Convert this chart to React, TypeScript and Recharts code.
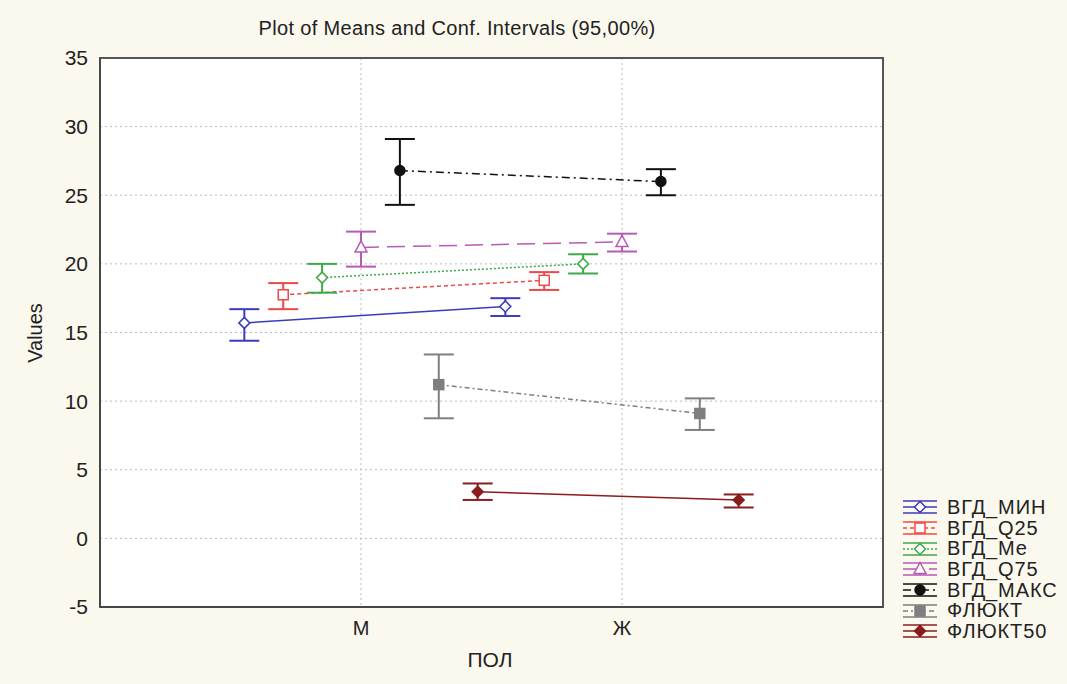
import {
  LineChart,
  Line,
  XAxis,
  YAxis,
  CartesianGrid,
  ErrorBar,
  Legend,
  ReferenceArea,
} from 'recharts'

const groups = ['М', 'Ж']
const yTicks = [-5, 0, 5, 10, 15, 20, 25, 30, 35]

const seriesNames = ['ВГД_МИН', 'ВГД_Q25', 'ВГД_Me', 'ВГД_Q75', 'ВГД_МАКС', 'ФЛЮКТ', 'ФЛЮКТ50']

// means and 95% CI bounds per group (М, Ж)
const vgdMin = [15.7, 16.9]
const vgdMinLo = [14.4, 16.2]
const vgdMinHi = [16.7, 17.5]

const vgdQ25 = [17.75, 18.8]
const vgdQ25Lo = [16.7, 18.1]
const vgdQ25Hi = [18.6, 19.4]

const vgdMe = [19.0, 20.0]
const vgdMeLo = [17.9, 19.3]
const vgdMeHi = [20.0, 20.7]

const vgdQ75 = [21.2, 21.6]
const vgdQ75Lo = [19.8, 20.9]
const vgdQ75Hi = [22.35, 22.2]

const vgdMax = [26.8, 26.0]
const vgdMaxLo = [24.3, 25.0]
const vgdMaxHi = [29.1, 26.9]

const fluct = [11.2, 9.1]
const fluctLo = [8.75, 7.9]
const fluctHi = [13.4, 10.2]

const fluct50 = [3.4, 2.8]
const fluct50Lo = [2.8, 2.25]
const fluct50Hi = [4.0, 3.2]

const means = [vgdMin, vgdQ25, vgdMe, vgdQ75, vgdMax, fluct, fluct50]
const lows = [vgdMinLo, vgdQ25Lo, vgdMeLo, vgdQ75Lo, vgdMaxLo, fluctLo, fluct50Lo]
const highs = [vgdMinHi, vgdQ25Hi, vgdMeHi, vgdQ75Hi, vgdMaxHi, fluctHi, fluct50Hi]

type Shape = 'diamond' | 'square' | 'triangle' | 'circle'

const styles: { color: string; dash?: string; shape: Shape; filled: boolean }[] = [
  { color: '#3b3bbd', shape: 'diamond', filled: false },
  { color: '#f04848', dash: '4 3', shape: 'square', filled: false },
  { color: '#3daa4a', dash: '2 2', shape: 'diamond', filled: false },
  { color: '#b65ab6', dash: '18 8', shape: 'triangle', filled: false },
  { color: '#111111', dash: '8 4 2 4', shape: 'circle', filled: true },
  { color: '#7f7f7f', dash: '5 3 2 3', shape: 'square', filled: true },
  { color: '#8b1c1c', shape: 'diamond', filled: true },
]

const OFFSET = 0.149
const FONT = '"Liberation Sans", Arial, sans-serif'
const TEXT = '#222'

const seriesData = means.map((m, si) =>
  groups.map((_, gi) => ({
    x: gi + 1 + (si - 3) * OFFSET,
    y: m[gi],
    err: [m[gi] - lows[si][gi], highs[si][gi] - m[gi]],
  }))
)

const Marker = ({ cx, cy, shape, color, filled }: { cx: number; cy: number; shape: Shape; color: string; filled: boolean }) => {
  const fill = filled ? color : '#fff'
  const sw = 1.5
  if (shape === 'diamond') {
    const r = 5.5
    return <polygon points={`${cx},${cy - r} ${cx + r},${cy} ${cx},${cy + r} ${cx - r},${cy}`} fill={fill} stroke={color} strokeWidth={sw} />
  }
  if (shape === 'square') {
    return <rect x={cx - 5} y={cy - 5} width={10} height={10} fill={fill} stroke={color} strokeWidth={sw} />
  }
  if (shape === 'triangle') {
    return <polygon points={`${cx},${cy - 6.5} ${cx + 6},${cy + 4.5} ${cx - 6},${cy + 4.5}`} fill={fill} stroke={color} strokeWidth={sw} />
  }
  return <circle cx={cx} cy={cy} r={5} fill={fill} stroke={color} strokeWidth={sw} />
}

const renderLegend = () => (
  <div style={{ fontFamily: FONT, fontSize: 20, color: TEXT, letterSpacing: 0.9 }}>
    {seriesNames.map((name, i) => {
      const s = styles[i]
      return (
        <div key={name} style={{ display: 'flex', alignItems: 'center', height: 20.7 }}>
          <svg width={38} height={20} style={{ marginRight: 8 }}>
            <line x1={2} y1={4} x2={36} y2={4} stroke={s.color} strokeWidth={1.5} />
            <line x1={2} y1={16} x2={36} y2={16} stroke={s.color} strokeWidth={1.5} />
            <line x1={19} y1={4} x2={19} y2={16} stroke={s.color} strokeWidth={1.5} />
            <line x1={2} y1={10} x2={36} y2={10} stroke={s.color} strokeWidth={1.5} strokeDasharray={s.dash} />
            <Marker cx={19} cy={10} shape={s.shape} color={s.color} filled={s.filled} />
          </svg>
          <span>{name}</span>
        </div>
      )
    })}
  </div>
)

export default function App() {
  return (
    <div style={{ position: 'absolute', left: 0, top: 0, width: 1067, height: 684, background: '#fbf8ee', fontFamily: FONT }}>
      <div style={{ position: 'absolute', top: 17, left: 457, transform: 'translateX(-50%)', whiteSpace: 'nowrap', fontSize: 20, letterSpacing: 0.35, color: TEXT }}>
        Plot of Means and Conf. Intervals (95,00%)
      </div>
      <div style={{ position: 'absolute', left: 35, top: 333, transform: 'translate(-50%, -50%) rotate(-90deg)', fontSize: 20, color: TEXT }}>
        Values
      </div>
      <div style={{ position: 'absolute', left: 490, top: 660, transform: 'translate(-50%, -50%)', fontSize: 21, color: TEXT }}>
        ПОЛ
      </div>
      <LineChart width={1067} height={684} margin={{ top: 58, right: 184, bottom: 47, left: 40 }}>
        <CartesianGrid fill="#ffffff" stroke="#bbbbbb" strokeDasharray="2 3" />
        <XAxis
          type="number"
          dataKey="x"
          domain={[0, 3]}
          ticks={[1, 2]}
          tickFormatter={(v: number) => groups[v - 1] ?? ''}
          allowDuplicatedCategory={false}
          height={30}
          tickSize={0}
          tickMargin={14}
          axisLine={{ stroke: '#444', strokeWidth: 1.5 }}
          tick={{ fill: TEXT, fontSize: 20, fontFamily: FONT }}
        />
        <YAxis
          type="number"
          domain={[-5, 35]}
          ticks={yTicks}
          width={60}
          tickSize={0}
          tickMargin={12}
          axisLine={{ stroke: '#444', strokeWidth: 1.5 }}
          tick={{ fill: TEXT, fontSize: 21, fontFamily: FONT }}
        />
        <ReferenceArea x1={0} x2={3} y1={-5} y2={35} fill="none" stroke="#555" strokeWidth={2} />
        {seriesNames.map((name, i) => {
          const s = styles[i]
          return (
            <Line
              key={name}
              name={name}
              data={seriesData[i]}
              dataKey="y"
              stroke={s.color}
              strokeWidth={1.5}
              strokeDasharray={s.dash}
              isAnimationActive={false}
              dot={(p: any) => (
                <Marker key={`${name}-${p.index}`} cx={p.cx} cy={p.cy} shape={s.shape} color={s.color} filled={s.filled} />
              )}
              activeDot={false}
            >
              <ErrorBar dataKey="err" direction="y" width={15} stroke={s.color} strokeWidth={2} isAnimationActive={false} />
            </Line>
          )
        })}
        <Legend
          layout="vertical"
          align="center"
          verticalAlign="middle"
          content={renderLegend}
          wrapperStyle={{ left: 901, top: 497, width: 166 }}
        />
      </LineChart>
    </div>
  )
}
